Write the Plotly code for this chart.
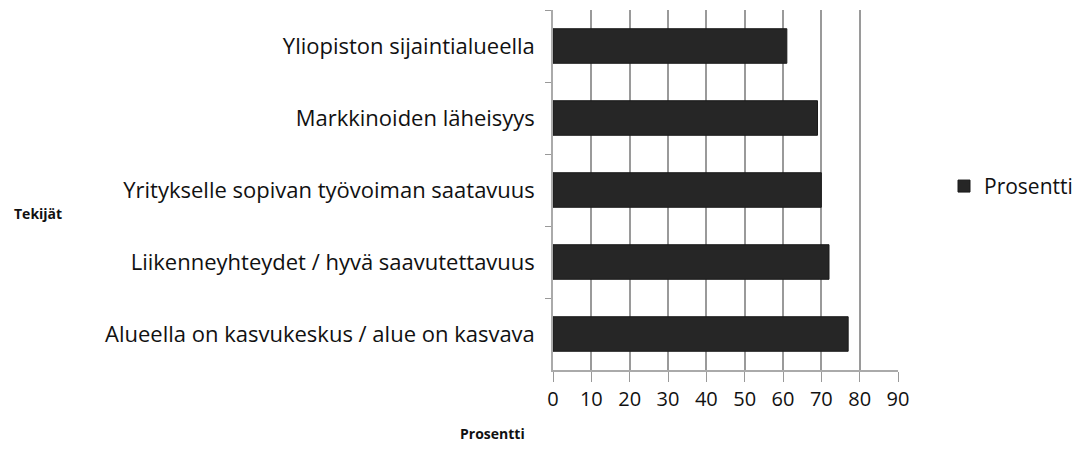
import plotly.graph_objects as go

categories = [
    "Yliopiston sijaintialueella",
    "Markkinoiden läheisyys",
    "Yritykselle sopivan työvoiman saatavuus",
    "Liikenneyhteydet / hyvä saavutettavuus",
    "Alueella on kasvukeskus / alue on kasvava",
]
values = [61, 69, 70, 72, 77]
x_ticks = [0, 10, 20, 30, 40, 50, 60, 70, 80, 90]

FONT = "Open Sans"
PW = 345.0  # plot width in px

fig = go.Figure()
fig.add_trace(go.Bar(
    y=categories, x=values, orientation="h", name="Prosentti",
    marker=dict(color="#262626", line=dict(color="#1a1a1a", width=1)),
    showlegend=True,
))

fig.update_layout(
    width=1079, height=457,
    margin=dict(l=553, r=181, t=10, b=87, autoexpand=False),
    paper_bgcolor="white", plot_bgcolor="white",
    bargap=0.52,
    font=dict(family=FONT, size=20, color="#111"),
    legend=dict(x=(944 - 553) / PW, y=0.51, xanchor="left", yanchor="middle",
                font=dict(size=21, family=FONT), itemwidth=30),
    xaxis=dict(range=[0, 90], tickvals=x_ticks, showgrid=True,
               gridcolor="#9a9a9a", gridwidth=1.5,
               showline=True, linecolor="#aaaaaa", linewidth=1.5,
               ticks="outside", ticklen=10, tickcolor="#999999",
               tickfont=dict(size=20, family=FONT), zeroline=False,
               automargin=False),
    yaxis=dict(autorange="reversed", showline=True, linecolor="#aaaaaa",
               linewidth=1.5, ticks="outside", tickson="boundaries",
               ticklen=6, tickcolor="#999999", automargin=False,
               ticklabelstandoff=12,
               tickfont=dict(size=22, family=FONT), showgrid=False),
    annotations=[
        dict(text="<b>Tekijät</b>", xref="paper", yref="paper",
             x=(12 - 553) / PW, y=(370 - 213) / 360, xanchor="left", yanchor="middle",
             showarrow=False, font=dict(size=14, family=FONT)),
        dict(text="<b>Prosentti</b>", xref="paper", yref="paper",
             x=(492 - 553) / PW, y=(370 - 433) / 360, xanchor="center", yanchor="middle",
             showarrow=False, font=dict(size=14, family=FONT)),
    ],
)

fig.write_html("out.html", config={"displayModeBar": False},
               post_script="document.body.style.margin='0px';")
